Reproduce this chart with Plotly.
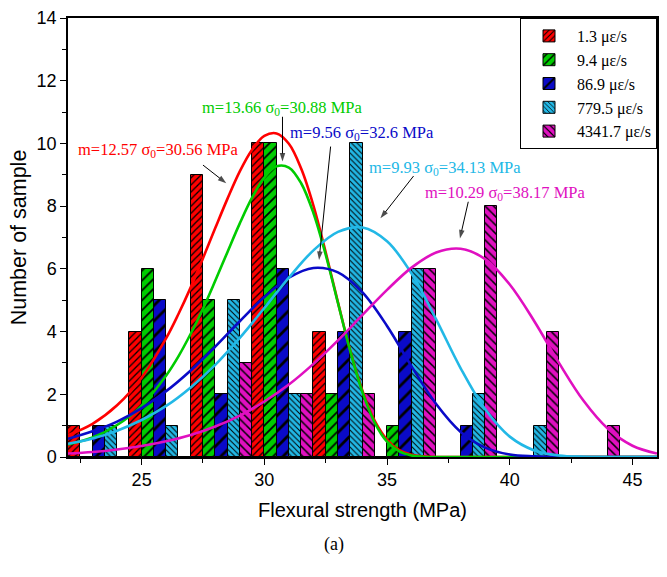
import plotly.graph_objects as go

# ---------------- data ----------------
series_names = ["1.3 με/s", "9.4 με/s", "86.9 με/s", "779.5 με/s", "4341.7 με/s"]
bin_left_edges = [22, 24.5, 27, 29.5, 32, 34.5, 37, 39.5, 42, 44.5]
bin_width = 2.5

counts_red = [1, 4, 9, 10, 4, 0, 0, 0, 0, 0]
counts_green = [0, 6, 5, 10, 2, 1, 0, 0, 0, 0]
counts_blue = [1, 5, 2, 6, 4, 4, 1, 0, 0, 0]
counts_cyan = [1, 1, 5, 2, 10, 6, 2, 1, 0, 0]
counts_magenta = [0, 0, 3, 2, 2, 6, 8, 4, 1, 0]

# fitted Weibull curves
fine_x = [22, 23, 24, 25, 26, 26.5, 27, 27.5, 28, 28.5, 29, 29.5, 30, 30.5, 31, 31.5,
          32, 32.5, 33, 33.5, 34, 34.5, 35, 35.5, 36, 36.5, 37, 38, 39, 40, 41, 42, 43, 44, 45, 46]
curve_red = [0.70, 1.06, 1.65, 2.53, 3.79, 4.56, 5.41, 6.34, 7.30, 8.24, 9.11, 9.80, 10.24, 10.32,
             9.99, 9.20, 8.02, 6.53, 4.93, 3.40, 2.11, 1.15, 0.55, 0.22, 0.07, 0.02, 0, 0, 0, 0, 0, 0, 0, 0, 0, 0]
curve_green = [0.40, 0.62, 1.02, 1.64, 2.60, 3.21, 3.93, 4.73, 5.62, 6.54, 7.45, 8.27, 8.91, 9.27,
               9.23, 8.73, 7.78, 6.45, 4.91, 3.38, 2.06, 1.09, 0.49, 0.18, 0.05, 0.01, 0, 0, 0, 0, 0, 0, 0, 0, 0, 0]
coarse_x = [22, 23, 24, 25, 26, 27, 28, 29, 30, 31, 32, 33, 34, 35, 36, 37, 38, 39, 40, 41, 42, 43, 44, 45, 46]
curve_blue = [0.58, 0.82, 1.13, 1.56, 2.10, 2.76, 3.52, 4.33, 5.10, 5.72, 6.03, 5.89, 5.25, 4.18, 2.89,
              1.69, 0.80, 0.30, 0.08, 0.02, 0, 0, 0, 0, 0]
curve_cyan = [0.42, 0.59, 0.84, 1.18, 1.63, 2.22, 2.94, 3.80, 4.75, 5.72, 6.59, 7.18, 7.32, 6.88, 5.85,
              4.39, 2.83, 1.52, 0.65, 0.21, 0.05, 0.01, 0, 0, 0]
curve_magenta = [0.11, 0.16, 0.24, 0.35, 0.50, 0.70, 0.97, 1.32, 1.77, 2.31, 2.97, 3.72, 4.53, 5.33, 6.04,
                 6.52, 6.64, 6.31, 5.50, 4.33, 3.01, 1.80, 0.90, 0.36, 0.11]

fit_labels = ["m=12.57 σ<sub>0</sub>=30.56 MPa", "m=13.66 σ<sub>0</sub>=30.88 MPa",
              "m=9.56 σ<sub>0</sub>=32.6 MPa", "m=9.93 σ<sub>0</sub>=34.13 MPa",
              "m=10.29 σ<sub>0</sub>=38.17 MPa"]

# ---------------- styling ----------------
colors = ["#FF0000", "#00CC00", "#0A0AC8", "#22B8E6", "#E010C0"]
hatch_shapes = ["/", "/", "/", "\\", "\\"]
hatch_sizes = [5, 7, 11, 4, 6]
serif = "Times New Roman, Liberation Serif, serif"
sans = "Arial, Liberation Sans, sans-serif"

bin_centers = [e + bin_width / 2 for e in bin_left_edges]
all_counts = [counts_red, counts_green, counts_blue, counts_cyan, counts_magenta]
curves = [(fine_x, curve_red), (fine_x, curve_green), (coarse_x, curve_blue),
          (coarse_x, curve_cyan), (coarse_x, curve_magenta)]

fig = go.Figure()
for name, cnt, col, shp, sz in zip(series_names, all_counts, colors, hatch_shapes, hatch_sizes):
    fig.add_trace(go.Bar(
        x=bin_centers, y=cnt, name=name,
        marker=dict(color=col, line=dict(color="black", width=1),
                    pattern=dict(shape=shp, size=sz, solidity=0.25, fgcolor="black",
                                 bgcolor=col, fillmode="replace")),
    ))

for (cx, cy), col in zip(curves, colors):
    fig.add_trace(go.Scatter(x=cx, y=cy, mode="lines", line=dict(color=col, width=2.6, shape="spline"),
                             showlegend=False, hoverinfo="skip"))

# fit labels (text) and pointer arrows
label_pos = [(25.67, 9.79), (30.71, 11.13), (33.98, 10.34), (37.35, 9.21), (39.82, 8.41)]
arrows = [((27.50, 9.31), (28.45, 8.73)),
          ((30.74, 10.85), (30.74, 9.42)),
          ((32.70, 9.90), (32.23, 6.28)),
          ((36.08, 8.96), (34.73, 7.61)),
          ((38.31, 8.14), (37.97, 6.97))]
for txt, (lx, ly), col in zip(fit_labels, label_pos, colors):
    fig.add_annotation(x=lx, y=ly, text=txt, showarrow=False, xref="x", yref="y",
                       font=dict(family=serif, size=16.5, color=col))
for (tail, head) in arrows:
    fig.add_trace(go.Scatter(x=[tail[0], head[0]], y=[tail[1], head[1]], mode="lines+markers",
                             line=dict(color="black", width=1),
                             marker=dict(symbol="arrow", size=[0, 9], angleref="previous",
                                         color="black", line=dict(width=0)),
                             showlegend=False, hoverinfo="skip"))

fig.add_annotation(x=0.4516, y=-0.1997, xref="paper", yref="paper", text="(a)", showarrow=False,
                   font=dict(family=serif, size=18, color="black"), yanchor="middle")

fig.update_layout(
    width=667, height=577,
    margin=dict(l=68, r=10, t=18, b=120),
    paper_bgcolor="white", plot_bgcolor="white",
    barmode="group", bargap=0, bargroupgap=0,
    legend=dict(x=1, y=1, xanchor="right", yanchor="top", bgcolor="white",
                bordercolor="black", borderwidth=1, font=dict(family=serif, size=16, color="black"),
                tracegroupgap=0, itemwidth=46),
    font=dict(family=sans, color="black"),
)
fig.update_xaxes(range=[22, 46], tickvals=[25, 30, 35, 40, 45], ticks="outside", ticklen=6,
                 tickwidth=1.2, tickcolor="black", showline=True, linecolor="black", linewidth=1.5,
                 mirror=True, showgrid=False, zeroline=False, automargin=False,
                 minor=dict(ticks="outside", dtick=2.5, tick0=0, ticklen=4, tickcolor="black"),
                 tickfont=dict(family=sans, size=18),
                 title=dict(text="Flexural strength (MPa)", font=dict(family=sans, size=20), standoff=14))
fig.update_yaxes(range=[0, 14], dtick=2, ticks="outside", ticklen=6, tickwidth=1.2, tickcolor="black",
                 showline=True, linecolor="black", linewidth=1.5, mirror=True, showgrid=False,
                 zeroline=False, automargin=False,
                 minor=dict(ticks="outside", dtick=1, ticklen=4, tickcolor="black"),
                 tickfont=dict(family=sans, size=18),
                 title=dict(text="Number of sample", font=dict(family=sans, size=21.5), standoff=4))

fig.write_html("out.html", config={"displayModeBar": False},
               post_script="document.body.style.margin='0px';")
